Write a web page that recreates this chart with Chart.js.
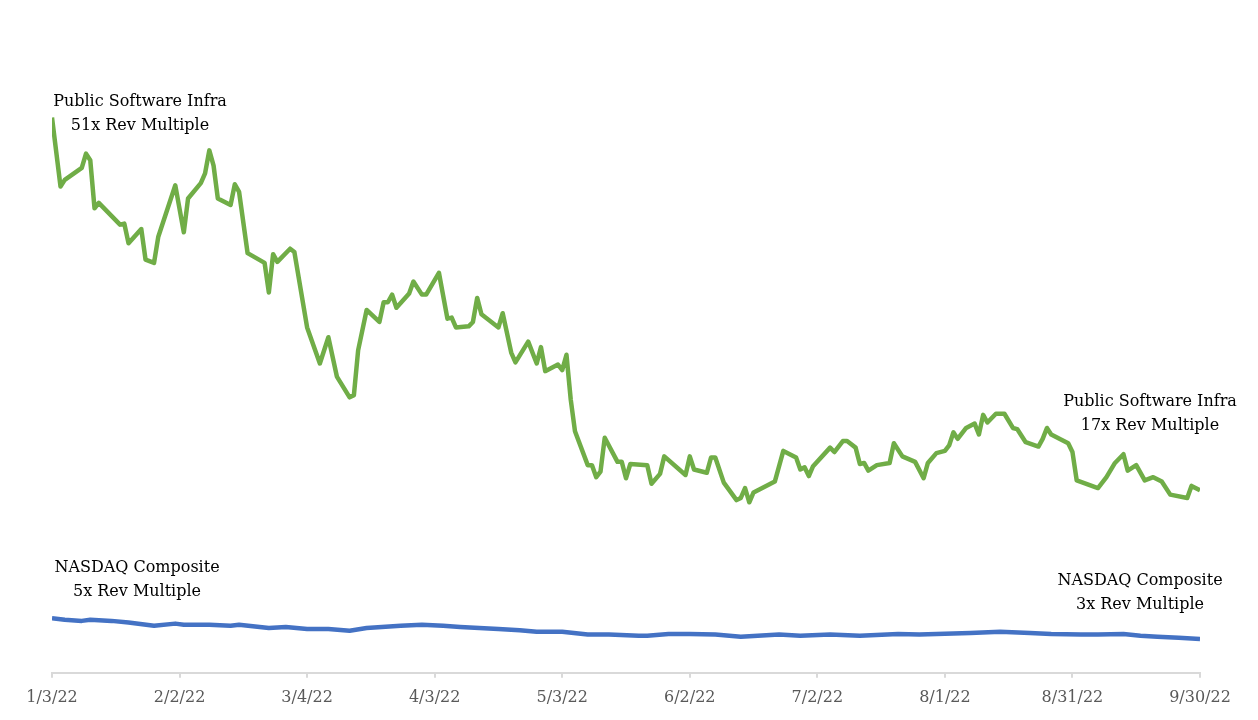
<!DOCTYPE html>
<html>
<head>
<meta charset="utf-8">
<script src="https://cdn.jsdelivr.net/npm/chart.js@4.4.0/dist/chart.umd.min.js"></script>
<style>
html,body{margin:0;padding:0;background:#fff;}
</style>
</head>
<body>
<canvas id="chart" width="1258" height="720"></canvas>
<script>

// days since 1/3/22
const infraDays = [0,2,3,7,8,9,10,11,16,17,18,21,22,24,25,29,31,32,35,36,37,38,39,42,43,44,46,50,51,52,53,56,57,60,63,65,67,70,71,72,74,77,78,79,80,81,84,85,87,88,91,93,94,95,98,99,100,101,105,106,108,109,112,114,115,116,119,120,121,122,123,126,127,128,129,130,133,134,135,136,140,141,143,144,149,150,151,154,155,156,158,161,162,163,164,165,170,172,175,176,177,178,179,183,184,186,187,189,190,191,192,194,197,198,200,203,205,206,208,210,211,212,213,215,217,218,219,220,222,224,226,227,229,232,233,234,235,239,240,241,246,248,250,252,253,255,257,259,261,263,267,268,270];
const infraValues = [50.8,44.5,45.1,46.2,47.5,46.9,42.5,43.0,41.0,41.1,39.3,40.6,37.8,37.5,39.9,44.6,40.3,43.4,44.8,45.7,47.8,46.4,43.4,42.8,44.7,44.0,38.4,37.5,34.8,38.3,37.6,38.8,38.5,31.6,28.3,30.7,27.1,25.2,25.4,29.5,33.2,32.1,33.9,33.9,34.6,33.4,34.7,35.8,34.6,34.6,36.6,32.4,32.5,31.6,31.7,32.1,34.3,32.8,31.6,32.9,29.3,28.4,30.3,28.3,29.8,27.6,28.2,27.7,29.1,25.0,22.1,19.0,19.0,17.9,18.4,21.5,19.3,19.3,17.8,19.1,19.0,17.3,18.2,19.8,18.1,19.8,18.6,18.3,19.7,19.7,17.4,15.8,16.0,16.9,15.6,16.5,17.5,20.3,19.7,18.6,18.8,18.0,18.9,20.6,20.2,21.2,21.2,20.6,19.1,19.2,18.5,19.0,19.2,21.0,19.8,19.3,17.8,19.2,20.1,20.3,20.8,22.0,21.4,22.4,22.8,21.8,23.6,22.9,23.7,23.7,22.4,22.3,21.1,20.7,21.4,22.4,21.8,21.0,20.2,17.6,16.9,17.9,19.2,20.0,18.5,19.0,17.6,17.9,17.5,16.3,16.0,17.1,16.7];

const nasdaqDays = [0,3,7,9,14,18,24,29,31,37,42,44,51,55,60,65,70,74,82,87,92,96,105,110,114,120,126,131,138,140,145,150,156,162,166,171,176,183,190,199,204,208,216,223,230,235,242,246,252,256,260,265,270];
const nasdaqValues = [5.0,4.85,4.75,4.85,4.75,4.6,4.3,4.5,4.4,4.4,4.3,4.4,4.1,4.2,4.0,4.0,3.85,4.1,4.3,4.4,4.3,4.2,4.0,3.9,3.75,3.75,3.5,3.5,3.4,3.4,3.55,3.55,3.5,3.3,3.4,3.5,3.4,3.5,3.4,3.55,3.5,3.55,3.65,3.75,3.65,3.55,3.5,3.5,3.55,3.4,3.3,3.2,3.1];

const tickLabels = ['1/3/22','2/2/22','3/4/22','4/3/22','5/3/22','6/2/22','7/2/22','8/1/22','8/31/22','9/30/22'];

const infraStart = ['Public Software Infra','51x Rev Multiple'];
const infraEnd = ['Public Software Infra','17x Rev Multiple'];
const nasdaqStart = ['NASDAQ Composite','5x Rev Multiple'];
const nasdaqEnd = ['NASDAQ Composite','3x Rev Multiple'];

const serif = '"DejaVu Serif", serif';

const notes = {
id:'notes',
afterDatasetsDraw(chart){
const ctx=chart.ctx;
ctx.save();
ctx.font='16px '+serif;
ctx.fillStyle='#000';
ctx.textAlign='center';
ctx.textBaseline='middle';
const drawPair=(lines,cx,cy)=>{
ctx.fillText(lines[0],cx,cy);
ctx.fillText(lines[1],cx,cy+24);
};
drawPair(infraStart,140,102);
drawPair(infraEnd,1150,402);
drawPair(nasdaqStart,137,568);
drawPair(nasdaqEnd,1140,581);
ctx.restore();
}
};

new Chart(document.getElementById('chart'),{
type:'line',
data:{
datasets:[
{data:infraDays.map((d,i)=>({x:d,y:infraValues[i]})),borderColor:'#70AD47',borderWidth:4.5,pointRadius:0,tension:0,borderJoinStyle:'round'},
{data:nasdaqDays.map((d,i)=>({x:d,y:nasdaqValues[i]})),borderColor:'#4472C4',borderWidth:4.5,pointRadius:0,tension:0,borderJoinStyle:'round'}
]
},
options:{
responsive:false,
animation:false,
layout:{padding:{left:52,right:58,top:17,bottom:3}},
plugins:{legend:{display:false},tooltip:{enabled:false}},
scales:{
x:{
type:'linear',min:0,max:270,
ticks:{stepSize:30,autoSkip:false,maxRotation:0,color:'#595959',padding:10,
font:{family:serif,size:16},
callback:(v)=>tickLabels[Math.round(v/30)]},
grid:{drawOnChartArea:false,drawTicks:true,tickLength:5,color:'#d9d9d9',lineWidth:2},
border:{display:true,color:'#d9d9d9',width:2}
},
y:{display:false,min:0,max:60}
}
},
plugins:[notes]
});
</script>
</body>
</html>
